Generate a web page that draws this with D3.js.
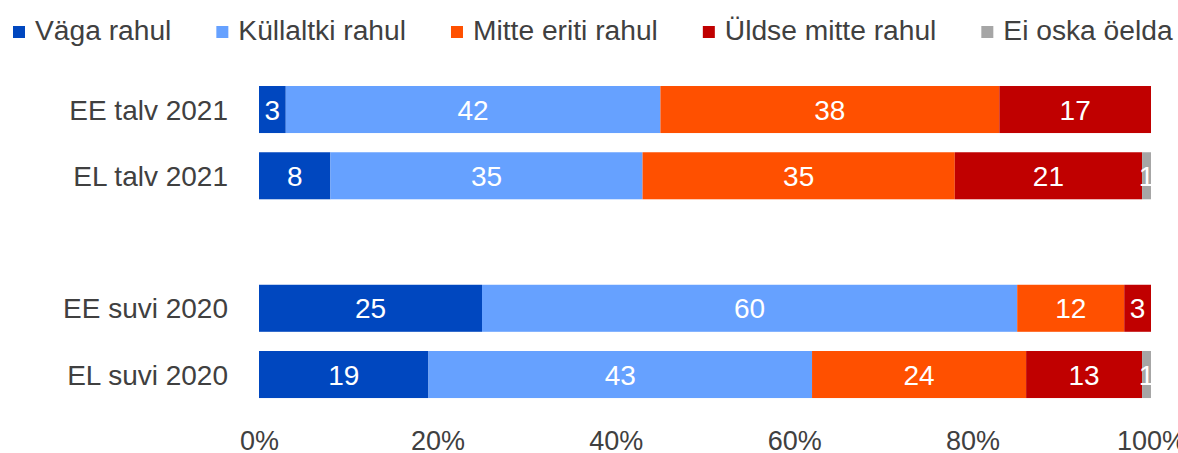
<!DOCTYPE html>
<html>
<head>
<meta charset="utf-8">
<script src="https://cdn.jsdelivr.net/npm/d3@7"></script>
<style>
  html, body { margin: 0; padding: 0; background: #fff; }
  svg { display: block; }
  text { font-family: "Liberation Sans", Arial, sans-serif; }
</style>
</head>
<body>
<div id="viz"></div>
<script>
// categories, "" is the empty gap row between the two groups
var categories = ['EE talv 2021', 'EL talv 2021', '', 'EE suvi 2020', 'EL suvi 2020'];
var seriesNames = ['Väga rahul', 'Küllaltki rahul', 'Mitte eriti rahul', 'Üldse mitte rahul', 'Ei oska öelda'];
var seriesColors = ['#0047bf', '#66a1ff', '#ff5000', '#c00000', '#a6a6a6'];

var vagaRahul     = [3, 8, null, 25, 19];
var kullaltki     = [42, 35, null, 60, 43];
var mitteEriti    = [38, 35, null, 12, 24];
var uldseMitte    = [17, 21, null, 3, 13];
var eiOska        = [0, 1, null, 0, 1];
var tickValues = [0, 20, 40, 60, 80, 100];

var width = 1178, height = 453;
var svg = d3.select('#viz').append('svg')
  .attr('width', width).attr('height', height);

var x = d3.scaleLinear().domain([0, 100]).range([259, 1151]);
var y = d3.scaleBand().domain(categories)
  .range([76.4, 407.65]).paddingInner(0.29).paddingOuter(0.145);

var seriesValues = [vagaRahul, kullaltki, mitteEriti, uldseMitte, eiOska];

// build stacked rows
var rows = categories.map(function(c, i) {
  var row = { cat: c };
  seriesNames.forEach(function(s, j) { row[s] = seriesValues[j][i] || 0; });
  return row;
}).filter(function(r) { return r.cat !== ''; });

var stacked = d3.stack().keys(seriesNames)(rows);

var layers = svg.append('g').selectAll('g')
  .data(stacked).enter().append('g')
  .attr('fill', function(d, i) { return seriesColors[i]; });

layers.selectAll('rect')
  .data(function(d) { return d; })
  .enter().filter(function(d) { return d[1] - d[0] > 0; })
  .append('rect')
  .attr('x', function(d) { return x(d[0]); })
  .attr('y', function(d) { return y(d.data.cat); })
  .attr('width', function(d) { return x(d[1]) - x(d[0]); })
  .attr('height', y.bandwidth());

layers.selectAll('text')
  .data(function(d) { return d; })
  .enter().filter(function(d) { return d[1] - d[0] > 0; })
  .append('text')
  .attr('x', function(d) { return (x(d[0]) + x(d[1])) / 2; })
  .attr('y', function(d) { return y(d.data.cat) + y.bandwidth() / 2; })
  .attr('dy', '0.36em')
  .attr('text-anchor', 'middle')
  .attr('fill', '#fff')
  .style('font-size', '28px')
  .text(function(d) { return d[1] - d[0]; });

// category labels
svg.append('g').selectAll('text')
  .data(categories.filter(function(c) { return c !== ''; }))
  .enter().append('text')
  .attr('x', 228)
  .attr('y', function(d) { return y(d) + y.bandwidth() / 2; })
  .attr('dy', '0.36em')
  .attr('text-anchor', 'end')
  .attr('fill', '#404040')
  .style('font-size', '28px')
  .text(function(d) { return d; });

// x axis, labels only
var xAxis = svg.append('g')
  .attr('transform', 'translate(0,424)')
  .call(d3.axisBottom(x).tickValues(tickValues)
    .tickFormat(function(d) { return d + '%'; })
    .tickSize(0).tickPadding(0));
xAxis.select('.domain').remove();
xAxis.selectAll('text')
  .attr('dy', null)
  .attr('y', 26)
  .attr('fill', '#404040')
  .style('font-size', '27px')
  .style('font-family', '"Liberation Sans", Arial, sans-serif');

// legend
var legend = svg.append('g').attr('transform', 'translate(13,0)');
var lx = 0;
seriesNames.forEach(function(name, i) {
  var item = legend.append('g').attr('transform', 'translate(' + lx + ',0)');
  item.append('rect')
    .attr('x', 0).attr('y', 26).attr('width', 12).attr('height', 12)
    .attr('fill', seriesColors[i]);
  var t = item.append('text')
    .attr('x', 22).attr('y', 40)
    .attr('fill', '#404040')
    .style('font-size', '28.2px')
    .text(name);
  lx += 22 + t.node().getComputedTextLength() + 45;
});
</script>
</body>
</html>
